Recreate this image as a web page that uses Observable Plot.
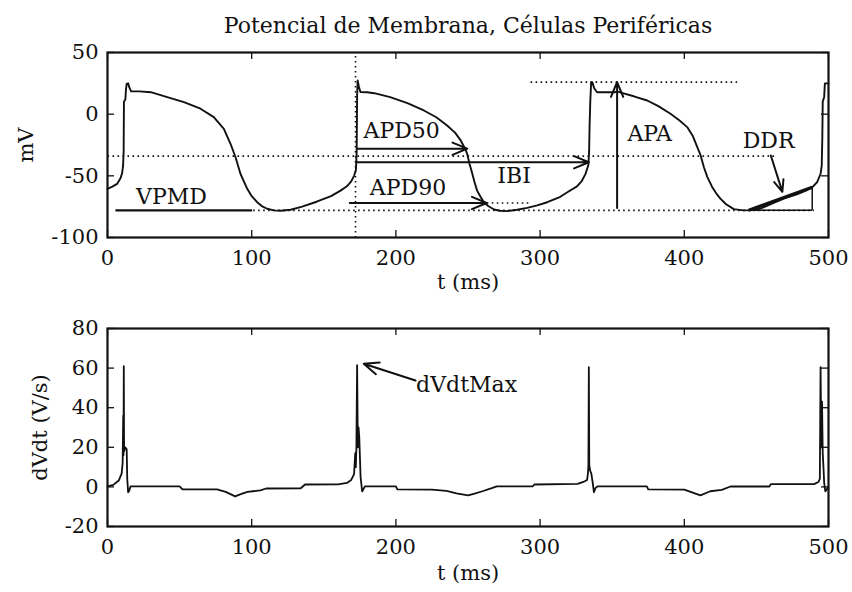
<!DOCTYPE html>
<html><head><meta charset="utf-8">
<script src="https://cdn.jsdelivr.net/npm/d3@7"></script>
<script src="https://cdn.jsdelivr.net/npm/@observablehq/plot@0.6"></script>
<style>
html,body{margin:0;padding:0;background:#fff;}
#chart{position:relative;width:852px;height:592px;overflow:hidden;background:#fff;}
#chart svg{display:block;}
</style></head><body><div id="chart"></div>
<script>
// ---- data: membrane potential (mV) vs time (ms)
const vmTime = [0,3,6.7,9,10.1,10.8,11.2,11.4,12.4,12.8,13.3,14.3,15.2,16.4,22,30,41.4,53,64.5,73.7,80.7,85.3,88.8,92.2,96.9,100,103.8,107,110.7,115.4,120,127,135,145,155,161.6,166,169,171,172.3,172.8,173.1,173.5,174.3,175.4,180,185,196,208,219.4,228,235.5,241,244.8,247.5,249.4,251,252.9,254.5,256.3,258.7,261,264,268,272,277,284,291,298,305,314,320,325.6,329,331.5,333.5,334,334.3,334.8,335.4,336.2,337.5,339.5,352,353.4,356,365,374.3,382,390.4,396.5,402,406,409,411.2,413.6,416,419.3,422,425,429,434.3,441,448,452.8,462,469,478,485.2,489,492.2,494.5,495.3,495.7,496,497,497.5,500];
const vmValue = [-60.5,-59,-56.5,-52,-48,-42,-30,10,12,20,24.6,25,21.5,18.5,18.5,17.8,13.8,9.7,4.4,-2.4,-11.9,-24,-34.9,-48.3,-60.5,-66.5,-71.4,-74.5,-76.7,-78,-78.3,-77.5,-75,-71,-66.5,-62,-58.5,-54.5,-50,-45,-30,15,27.3,22.5,18,17.8,17,13.8,9,3,-2.5,-9.2,-15,-21,-27,-32,-40,-48,-55,-62,-67,-71.4,-74.5,-77.3,-78.3,-78.6,-77.5,-76,-74,-71.4,-67,-62.5,-58.5,-54,-48.4,-41,-30,-10,10,26,26,21,17.8,17.8,18.5,17.5,14.5,11.1,6.5,0.3,-5,-10.5,-18,-26.8,-33,-43,-51,-59,-64,-68.5,-73,-77,-78,-77.8,-76.5,-72,-68.5,-65,-61.5,-59,-55,-48.3,-42,-20,10,14,25,25];

// ---- data: dV/dt (V/s) vs time (ms)
const dvTime = [0,4,7.8,9.8,10.5,10.9,11.1,11.3,11.5,12.3,13.3,13.7,14.3,15,16,50,52,76,82,88.5,92,97,101,106,110,134,137,160,166,169,171,171.8,172.2,172.6,173.1,173.6,174.1,174.6,175.5,176.6,178.5,200,201,225,235,242,250,254,260,267,270,295,296,326,330,332.6,333.2,333.5,333.8,334.1,334.8,335.5,336.5,337.3,338.5,340,374,375,400,411.2,418,426,432,459,460,490,493,494,494.5,495,495.5,496,496.5,497,497.8,499,500];
const dvValue = [0.3,1,3.2,6.7,12,36,16,61,18,20,19,4,-2.7,-2,0.3,0.3,-1.2,-1.2,-2.5,-4.8,-3.8,-2.5,-2.2,-1.8,-0.8,-0.7,1.2,1.3,2,3.5,6.5,17,10,20,61.5,20,30,25,5,-2.3,0.3,0.3,-1.2,-1.4,-2,-3.3,-4.3,-3.5,-2.2,-0.5,0.3,0.3,1.2,1.5,2.5,3.5,7,11,60.5,11,8,6.8,2,-2.7,-0.5,0.3,0.3,-1.2,-1.4,-4.3,-2.2,-1.5,0.2,0.2,1.4,1.4,2.5,4,60.5,20,43,17,10,2,-2.3,-1,0];

const xTicks = [0,100,200,300,400,500];
const vmTicks = [-100,-50,0,50];
const dvTicks = [-20,0,20,40,60,80];

// ---- annotation geometry (in data units)
const dottedTop = [
  {x1:0, y1:-34, x2:463, y2:-34},
  {x1:101, y1:-78, x2:490, y2:-78},
  {x1:293.4, y1:26, x2:436.6, y2:26},
  {x1:263, y1:-72, x2:293, y2:-72},
  {x1:172, y1:-100, x2:172, y2:50}
];
const solidTop = [
  {x1:5.5, y1:-78, x2:100.3, y2:-78, w:2.2},
  {x1:444.7, y1:-78, x2:488.7, y2:-59.2, w:3.2},
  {x1:488.7, y1:-59.2, x2:488.7, y2:-78, w:1.5},
  {x1:444.7, y1:-78, x2:488.7, y2:-78, w:1.5}
];
const arrowsTop = [
  {x1:173.2, y1:-28, x2:249.5, y2:-28},
  {x1:173.2, y1:-39, x2:333.8, y2:-39},
  {x1:168, y1:-72, x2:263, y2:-72},
  {x1:353.4, y1:-76, x2:353.4, y2:26},
  {x1:460, y1:-33.5, x2:468, y2:-63}
];
const labelsTop = [
  {t:44.4, v:-67, text:"VPMD"},
  {t:204, v:-14, text:"APD50"},
  {t:208.4, v:-60, text:"APD90"},
  {t:282, v:-50.5, text:"IBI"},
  {t:376, v:-15.8, text:"APA"},
  {t:458.5, v:-21.4, text:"DDR"}
];
const arrowsBottom = [{x1:213.6, y1:53.7, x2:177.7, y2:62.2}];
const labelsBottom = [{t:249, v:51.7, text:"dVdtMax"}];

const vm = vmTime.map((t,i)=>({t, v:vmValue[i]}));
const dv = dvTime.map((t,i)=>({t, v:dvValue[i]}));

const INK = "#111";
const FONT = "DejaVu Serif";
const W = 852, ML = 107, MR = 24;
const FW = W - ML - MR;

function frameTicks(yTicks, FH) {
  return [
    Plot.tickX(xTicks, {x: d=>d, insetTop: FH-7, stroke: INK, strokeWidth: 1.3}),
    Plot.tickX(xTicks, {x: d=>d, insetBottom: FH-7, stroke: INK, strokeWidth: 1.3}),
    Plot.tickY(yTicks, {y: d=>d, insetRight: FW-7, stroke: INK, strokeWidth: 1.3}),
    Plot.tickY(yTicks, {y: d=>d, insetLeft: FW-7, stroke: INK, strokeWidth: 1.3}),
    Plot.axisX({ticks: xTicks, tickSize: 0, tickPadding: 13, label: null, tickFormat: d=>String(d)}),
    Plot.axisY({ticks: yTicks, tickSize: 0, tickPadding: 9, label: null, tickFormat: d=>String(d)})
  ];
}

const centered = {textAnchor: "middle", lineAnchor: "middle", fill: INK};
const plotStyle = {fontFamily: FONT, fontSize: "21px", color: INK, background: "#fff", overflow: "visible"};

const topPlot = Plot.plot({
  width: W, height: 300,
  marginLeft: ML, marginRight: MR, marginTop: 52, marginBottom: 63,
  x: {domain: [0,500]},
  y: {domain: [-100,50]},
  style: plotStyle,
  marks: [
    ...frameTicks(vmTicks, 185),
    Plot.link(dottedTop, {x1:"x1", y1:"y1", x2:"x2", y2:"y2", stroke: INK, strokeWidth: 1.6, strokeDasharray: "1.6,3.4"}),
    Plot.link(solidTop, {x1:"x1", y1:"y1", x2:"x2", y2:"y2", stroke: INK, strokeWidth: d=>d.w}),
    Plot.line(vm, {x:"t", y:"v", stroke: INK, strokeWidth: 1.9}),
    Plot.arrow(arrowsTop, {x1:"x1", y1:"y1", x2:"x2", y2:"y2", stroke: INK, strokeWidth: 2, headLength: 12, headAngle: 45}),
    Plot.text(labelsTop, {x:"t", y:"v", text:"text", fill: INK, fontSize: 22}),
    Plot.frame({stroke: INK, strokeWidth: 2.2}),
    Plot.text(["Potencial de Membrana, Células Periféricas"], {text: d=>d, frameAnchor: "top", dy: -27, fontSize: 22, ...centered}),
    Plot.text(["t (ms)"], {text: d=>d, frameAnchor: "bottom", dy: 45, ...centered}),
    Plot.text(["mV"], {text: d=>d, frameAnchor: "left", rotate: -90, dx: -81, ...centered})
  ]
});

const bottomPlot = Plot.plot({
  width: W, height: 292,
  marginLeft: ML, marginRight: MR, marginTop: 28, marginBottom: 66,
  x: {domain: [0,500]},
  y: {domain: [-20,80]},
  style: plotStyle,
  marks: [
    ...frameTicks(dvTicks, 198),
    Plot.line(dv, {x:"t", y:"v", stroke: INK, strokeWidth: 1.8}),
    Plot.arrow(arrowsBottom, {x1:"x1", y1:"y1", x2:"x2", y2:"y2", stroke: INK, strokeWidth: 2, headLength: 12, headAngle: 45}),
    Plot.text(labelsBottom, {x:"t", y:"v", text:"text", fill: INK, fontSize: 22}),
    Plot.frame({stroke: INK, strokeWidth: 2.2}),
    Plot.text(["t (ms)"], {text: d=>d, frameAnchor: "bottom", dy: 47, ...centered}),
    Plot.text(["dVdt (V/s)"], {text: d=>d, frameAnchor: "left", rotate: -90, dx: -67, ...centered})
  ]
});

const root = document.getElementById("chart");
root.appendChild(topPlot);
root.appendChild(bottomPlot);
</script></body></html>
